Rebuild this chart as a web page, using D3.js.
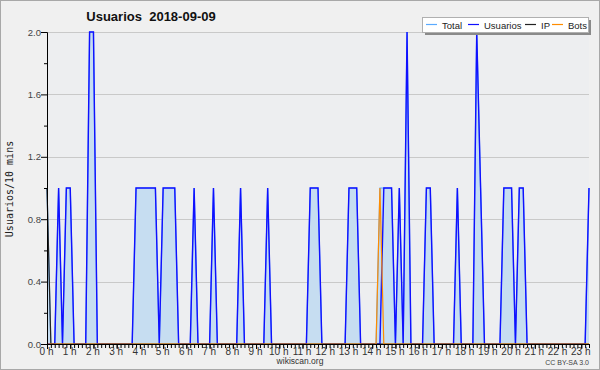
<!DOCTYPE html>
<html>
<head>
<meta charset="utf-8">
<script src="https://cdn.jsdelivr.net/npm/d3@7"></script>
<style>
  body { margin: 0; background: #f0f0f0; }
  text { font-family: "Liberation Sans", Arial, sans-serif; }
</style>
</head>
<body>
<div id="container"></div>
<script>
/* CONSTANTS AND GLOBALS */
const width = 600;
const height = 370;
const margin = { top: 32, right: 11, bottom: 26, left: 47 };

/* DATA - one value per 10 minutes, from 0:00 */
const hours = d3.range(0, 24);
const seriesNames = ["Total", "Usuarios", "IP", "Bots"];
const seriesColors = ["#5aaaff", "#1010ff", "#222222", "#ff8c00"];

const total = [
  1,0,0,1,0,1,  1,0,0,0,0,2,  2,0,0,0,0,0,  0,0,0,0,0,1,
  1,1,1,1,1,0,  1,1,1,1,0,0,  0,0,1,0,0,0,  0,1,0,0,0,0,
  0,0,1,0,0,0,  0,0,0,1,0,0,  0,0,0,0,0,0,  0,0,1,1,1,0,
  0,0,0,0,0,0,  1,1,1,0,0,0,  0,0,1,1,1,1,  0,1,0,2,0,0,
  0,0,1,1,0,0,  0,0,0,0,1,0,  0,0,0,2,1,0,  0,0,0,0,1,1,
  1,0,1,1,0,0,  0,0,0,0,0,0,  0,0,0,0,0,0,  0,0,1
];
const usuarios = [
  0,0,0,1,0,1,  1,0,0,0,0,2,  2,0,0,0,0,0,  0,0,0,0,0,1,
  1,1,1,1,1,0,  1,1,1,1,0,0,  0,0,1,0,0,0,  0,1,0,0,0,0,
  0,0,1,0,0,0,  0,0,0,1,0,0,  0,0,0,0,0,0,  0,0,1,1,1,0,
  0,0,0,0,0,0,  1,1,1,0,0,0,  0,0,0,1,1,1,  0,1,0,2,0,0,
  0,0,1,1,0,0,  0,0,0,0,1,0,  0,0,0,2,1,0,  0,0,0,0,1,1,
  1,0,1,1,0,0,  0,0,0,0,0,0,  0,0,0,0,0,0,  0,0,1
];
const ip = [
  1,0,0,0,0,0,  0,0,0,0,0,0,  0,0,0,0,0,0,  0,0,0,0,0,0,
  0,0,0,0,0,0,  0,0,0,0,0,0,  0,0,0,0,0,0,  0,0,0,0,0,0,
  0,0,0,0,0,0,  0,0,0,0,0,0,  0,0,0,0,0,0,  0,0,0,0,0,0,
  0,0,0,0,0,0,  0,0,0,0,0,0,  0,0,0,0,0,0,  0,0,0,0,0,0,
  0,0,0,0,0,0,  0,0,0,0,0,0,  0,0,0,0,0,0,  0,0,0,0,0,0,
  0,0,0,0,0,0,  0,0,0,0,0,0,  0,0,0,0,0,0,  0,0,0
];
const bots = [
  0,0,0,0,0,0,  0,0,0,0,0,0,  0,0,0,0,0,0,  0,0,0,0,0,0,
  0,0,0,0,0,0,  0,0,0,0,0,0,  0,0,0,0,0,0,  0,0,0,0,0,0,
  0,0,0,0,0,0,  0,0,0,0,0,0,  0,0,0,0,0,0,  0,0,0,0,0,0,
  0,0,0,0,0,0,  0,0,0,0,0,0,  0,0,1,0,0,0,  0,0,0,0,0,0,
  0,0,0,0,0,0,  0,0,0,0,0,0,  0,0,0,0,0,0,  0,0,0,0,0,0,
  0,0,0,0,0,0,  0,0,0,0,0,0,  0,0,0,0,0,0,  0,0,0
];
const yTicks = [0, 0.4, 0.8, 1.2, 1.6, 2.0];
const yMinorTicks = [0.2, 0.6, 1.0, 1.4, 1.8];

/* SCALES */
const xScale = d3.scaleLinear()
  .domain([0, total.length - 1])
  .range([margin.left, width - margin.right]);

const yScale = d3.scaleLinear()
  .domain([0, 2])
  .range([height - margin.bottom, margin.top]);

/* HTML ELEMENTS */
const svg = d3.select("#container")
  .append("svg")
  .attr("width", width)
  .attr("height", height);

// background + frame
svg.append("rect")
  .attr("x", 0.5).attr("y", 0.5)
  .attr("width", width - 1).attr("height", height - 1)
  .attr("fill", "#f0f0f0")
  .attr("stroke", "#a8a8a8");

svg.append("rect")
  .attr("x", margin.left).attr("y", margin.top)
  .attr("width", width - margin.left - margin.right)
  .attr("height", height - margin.top - margin.bottom)
  .attr("fill", "#edeef0");

// grid
svg.append("g")
  .selectAll("line")
  .data(yTicks.filter(d => d > 0))
  .join("line")
  .attr("x1", margin.left)
  .attr("x2", width - margin.right)
  .attr("y1", d => Math.round(yScale(d)) + 0.5)
  .attr("y2", d => Math.round(yScale(d)) + 0.5)
  .attr("stroke", "#c9c9c9");

// total area
const area = d3.area()
  .x((d, i) => xScale(i))
  .y0(yScale(0))
  .y1(d => yScale(d));

svg.append("path")
  .datum(total)
  .attr("d", area)
  .attr("fill", "#c6ddf1");

// lines
const line = d3.line()
  .x((d, i) => xScale(i))
  .y(d => yScale(d));

const allSeries = [total, usuarios, ip, bots];
allSeries.forEach((s, k) => {
  svg.append("path")
    .datum(s)
    .attr("d", line)
    .attr("fill", "none")
    .attr("stroke", seriesColors[k])
    .attr("stroke-width", k == 1 ? 1.4 : 1.2);
});

// x axis
const xAxisMinor = d3.axisBottom(xScale)
  .tickValues(d3.range(0, total.length))
  .tickSize(4)
  .tickSizeOuter(0)
  .tickFormat("");

svg.append("g")
  .attr("transform", "translate(0," + (height - margin.bottom) + ")")
  .call(xAxisMinor)
  .call(g => g.select(".domain").attr("stroke", "#000"));

const xAxis = d3.axisBottom(xScale)
  .tickValues(hours.map(h => h * 6))
  .tickSize(5)
  .tickSizeOuter(0)
  .tickFormat(d => (d / 6) + " h");

svg.append("g")
  .attr("transform", "translate(0," + (height - margin.bottom) + ")")
  .call(xAxis)
  .call(g => g.select(".domain").remove())
  .selectAll("text")
  .attr("y", 4)
  .attr("dy", "0.71em")
  .attr("dx", -1)
  .style("font-size", "10px")
  .style("font-family", "Liberation Sans, Arial, sans-serif")
  .attr("fill", "#333");

// y axis
svg.append("g")
  .attr("transform", "translate(" + margin.left + ",0)")
  .call(d3.axisLeft(yScale).tickValues(yMinorTicks).tickSize(3).tickSizeOuter(0).tickFormat(""));

svg.append("g")
  .attr("transform", "translate(" + margin.left + ",0)")
  .call(d3.axisLeft(yScale).tickValues(yTicks).tickSize(6).tickSizeOuter(0).tickFormat(d3.format(".1f")))
  .selectAll("text")
  .attr("x", -6)
  .style("font-size", "9.5px")
  .style("font-family", "Liberation Sans, Arial, sans-serif")
  .attr("fill", "#444");

// y label
svg.append("text")
  .attr("transform", "translate(13,189) rotate(-90)")
  .attr("text-anchor", "middle")
  .style("font-family", "DejaVu Sans Mono, monospace")
  .style("font-size", "10px")
  .attr("fill", "#222")
  .text("Usuarios/10 mins");

// title
svg.append("text")
  .attr("x", 151)
  .attr("y", 21)
  .attr("text-anchor", "middle")
  .style("font-weight", "bold")
  .style("font-size", "13px")
  .attr("fill", "#111")
  .attr("xml:space", "preserve")
  .style("white-space", "pre")
  .text("Usuarios  2018-09-09");

// legend
const legend = svg.append("g");
legend.append("rect")
  .attr("x", 425).attr("y", 20)
  .attr("width", 166).attr("height", 15)
  .attr("fill", "#8a8a8a");
legend.append("rect")
  .attr("x", 422.5).attr("y", 17.5)
  .attr("width", 166).attr("height", 15)
  .attr("fill", "#fff")
  .attr("stroke", "#b0b0b0");

const legendX = [426, 468, 525, 552];
seriesNames.forEach((name, k) => {
  legend.append("line")
    .attr("x1", legendX[k]).attr("x2", legendX[k] + 11)
    .attr("y1", 24.5).attr("y2", 24.5)
    .attr("stroke", seriesColors[k])
    .attr("stroke-width", 1.2);
  legend.append("text")
    .attr("x", legendX[k] + 16)
    .attr("y", 28.5)
    .style("font-size", "9.5px")
    .attr("fill", "#222")
    .text(name);
});

// footer
svg.append("text")
  .attr("x", 300).attr("y", 364)
  .attr("text-anchor", "middle")
  .style("font-size", "8.5px")
  .attr("fill", "#333")
  .text("wikiscan.org");

svg.append("text")
  .attr("x", 589).attr("y", 365)
  .attr("text-anchor", "end")
  .style("font-size", "7px")
  .attr("fill", "#444")
  .text("CC BY-SA 3.0");
</script>
</body>
</html>
